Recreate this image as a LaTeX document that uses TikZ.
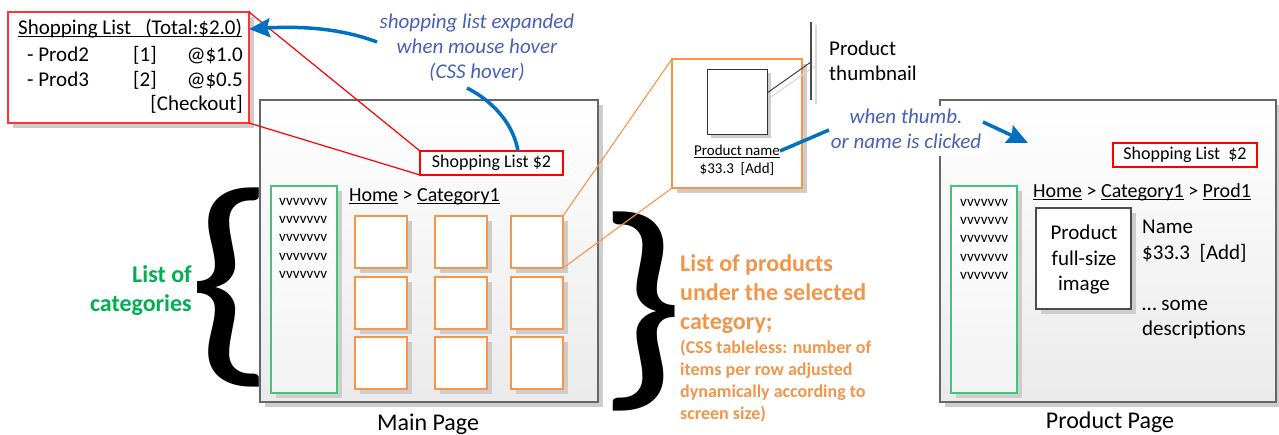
\documentclass[tikz,border=0pt]{standalone}
\usepackage{fontspec}
\setmainfont{Carlito}
\usetikzlibrary{shadows,arrows.meta,calc}
\definecolor{bluearrow}{RGB}{0,112,192}
\definecolor{bluetext}{RGB}{72,96,184}
\definecolor{orng}{RGB}{247,150,70}
\definecolor{orngtext}{RGB}{240,150,75}
\definecolor{grn}{RGB}{70,195,120}
\definecolor{grntext}{RGB}{0,176,80}
\definecolor{shadowgray}{RGB}{205,205,205}
\newcommand\uln[1]{\setbox0=\hbox{#1}\rlap{\rule[-2.4pt]{\wd0}{0.9pt}}\box0\relax}
\tikzset{
  shad/.style={drop shadow={shadow xshift=5pt,shadow yshift=-5pt,fill=shadowgray,opacity=1}},
  box/.style={draw,anchor=north west,inner sep=0pt,outer sep=0pt},
  page/.style={box,draw=black!60,line width=1.3pt,top color=white,bottom color=black!8,shad},
  prod/.style={box,draw=orng,line width=1.2pt,fill=white,shad,minimum width=52pt,minimum height=52pt},
  cat/.style={box,draw=grn,line width=1.1pt,top color=white,bottom color=black!5,shad,minimum width=66pt,minimum height=207pt},
  slbox/.style={box,draw=red,line width=1.1pt,fill=white,font=\fontsize{18}{22}\selectfont},
  t21/.style={font=\fontsize{21}{25}\selectfont,inner sep=0pt},
  t24/.style={font=\fontsize{24}{28}\selectfont,inner sep=0pt},
  t20/.style={font=\fontsize{20}{24}\selectfont,inner sep=0pt},
  t15/.style={font=\fontsize{15}{18}\selectfont,inner sep=0pt},
  vv/.style={font=\fontsize{15}{18}\selectfont,inner sep=0pt,anchor=base west},
  bt/.style={font=\fontsize{21}{25}\selectfont\itshape,text=bluetext,inner sep=0pt,anchor=base},
  gt/.style={font=\fontsize{24}{28}\selectfont\bfseries,text=grntext,inner sep=0pt,anchor=base east},
  ot/.style={font=\fontsize{24}{28}\selectfont\bfseries,text=orngtext,inner sep=0pt,anchor=base west},
  os/.style={font=\fontsize{18}{22}\selectfont\bfseries,text=orngtext,inner sep=0pt,anchor=base west},
  redline/.style={draw=red,line width=1.2pt},
  orline/.style={draw=orng,line width=1.1pt},
  blu/.style={draw=bluearrow,line width=3.5pt},
  bluarr/.style={blu,-{Stealth[length=21pt,width=19pt,inset=3pt]}},
  brace/.style={font=\fontsize{232}{232}\selectfont,inner sep=0pt,xscale=1.2}
}
\begin{document}
\begin{tikzpicture}[x=1pt,y=-1pt]
\useasboundingbox (0,0) rectangle (1279,434);

% ---------- expanded shopping list ----------
\node[box,draw=red!80,line width=1.3pt,fill=white,shad,minimum width=241pt,minimum height=111pt] (exp) at (8,12) {};
\node[t21,anchor=base west] (expt) at (18,34) {\uln{Shopping List\ \ \ (Total:\$2.0)}};
\node[t21,anchor=base west] (r1a) at (27,61) {- Prod2};
\node[t21,anchor=base west] (r1b) at (133,61) {[1]};
\node[t21,anchor=base east] (r1c) at (243,61) {@\$1.0};
\node[t21,anchor=base west] (r2a) at (27,86) {- Prod3};
\node[t21,anchor=base west] (r2b) at (133,86) {[2]};
\node[t21,anchor=base east] (r2c) at (243,86) {@\$0.5};
\node[t21,anchor=base east] (chk) at (243,110) {[Checkout]};

% ---------- main page ----------
\node[page,minimum width=338pt,minimum height=302pt] (main) at (260,100) {};
\node[t24,anchor=base] (mainl) at (428,430) {Main Page};
\node[slbox,minimum width=143pt,minimum height=24pt] (slm) at (420,151) {Shopping List \$2};
\node[cat] (catm) at (271,186) {};
\foreach \i/\y in {1/205,2/223,3/241,4/260,5/278}
  \node[vv] (vm\i) at (279,\y) {vvvvvvv};
\node[t20,anchor=base west] (crumbm) at (349,201) {\uln{Home} > \uln{Category1}};
\foreach \c/\x in {1/355,2/435,3/511}
  \foreach \r/\y in {1/216,2/277,3/337}
    \node[prod] (p\r\c) at (\x,\y) {};

% red connectors
\draw[redline] (exp.north east) -- (slm.north west);
\draw[redline] (exp.south east) -- (slm.south west);

% blue hover annotation
\node[bt] (h1) at (477,28) {shopping list expanded};
\node[bt] (h2) at (477,53) {when mouse hover};
\node[bt] (h3) at (477,78) {(CSS hover)};
\coordinate (a1s) at (377,42);
\coordinate (a2s) at (467,88);
\draw[bluarr] (a1s) .. controls (340,28) and (300,26) .. ($(exp.north east)+(0,17)$);
\draw[blu] (a2s) .. controls (498,104) and (514,128) .. ($(slm.north west)+(98,0)$);

% braces and labels
\node[brace] (lbr) at (231,287) {\{};
\node[brace] (rbr) at (641,311) {\}};
\node[gt] (g1) at (192,282) {List of};
\node[gt] (g2) at (192,311) {categories};
\node[ot] (o1) at (680,271) {List of products};
\node[ot] (o2) at (680,300) {under the selected};
\node[ot] (o3) at (680,329) {category;};
\node[os] (o4) at (680,353) {(CSS tableless: number of};
\node[os] (o5) at (680,375) {items per row adjusted};
\node[os] (o6) at (680,397) {dynamically according to};
\node[os] (o7) at (680,419) {screen size)};

% ---------- zoomed product ----------
\node[box,draw=orng,line width=1.3pt,fill=white,shad,minimum width=130pt,minimum height=129pt] (zoom) at (672,59) {};
\draw[orline] (p13.north east) -- (zoom.north west);
\draw[orline] (p13.south east) -- (zoom.south west);
\node[box,draw=black!80,line width=1pt,fill=white,drop shadow={shadow xshift=4pt,shadow yshift=-4pt,fill=shadowgray,opacity=1},minimum width=60pt,minimum height=65pt] (thumb) at (707,69) {};
\node[t15,anchor=base] (pname) at (737,155) {\uln{Product name}};
\node[t15,anchor=base] (pprice) at (737,173) {\$33.3\ \ [Add]};
% thumbnail callout
\coordinate (cb) at (811,62);
\draw[black!15,line width=1.2pt] ($(thumb.north east)+(4,28)$) -- ($(cb)+(4,4)$);
\draw[black!15,line width=1.2pt] (816,25) -- (816,104);
\draw[black!75,line width=1pt] ($(thumb.north east)+(0,24)$) -- (cb);
\draw[black!70,line width=1.2pt] (811,22) -- (811,100);
\node[t21,anchor=base west] (pt1) at (829,55) {Product};
\node[t21,anchor=base west] (pt2) at (829,80) {thumbnail};

% ---------- product page ----------
\node[page,minimum width=336pt,minimum height=302pt] (pp) at (940,100) {};
\node[t24,anchor=base] (ppl) at (1110,428) {Product Page};
\node[slbox,minimum width=144pt,minimum height=24pt] (slp) at (1113,143) {Shopping List\ \ \$2};
\node[cat] (catp) at (951,186) {};
\foreach \i/\y in {1/206,2/224,3/242,4/261,5/279}
  \node[vv] (vp\i) at (960,\y) {vvvvvvv};
\node[t20,anchor=base west] (crumbp) at (1033,197) {\uln{Home} > \uln{Category1} > \uln{Prod1}};
\node[box,draw=black!70,line width=1.1pt,fill=white,shad,minimum width=95pt,minimum height=101pt] (full) at (1036,208) {};
\node[t21,anchor=base] (f1) at (1084,239) {Product};
\node[t21,anchor=base] (f2) at (1084,265) {full-size};
\node[t21,anchor=base] (f3) at (1084,290) {image};
\node[t21,anchor=base west] (d1) at (1142,233) {Name};
\node[t21,anchor=base west] (d2) at (1142,259) {\$33.3\ \ [Add]};
\node[t21,anchor=base west] (d3) at (1142,310) {… some};
\node[t21,anchor=base west] (d4) at (1142,335) {descriptions};

% click annotation (over the product page border)
\fill[white] (826,106) rectangle (986,156);
\node[bt] (c1) at (906,123) {when thumb.};
\node[bt] (c2) at (906,148) {or name is clicked};
\coordinate (c2s) at (829,130);
\draw[blu] (pname.east) -- (c2s);
\coordinate (a3s) at (983,122);
\coordinate (a3e) at (1028,143);
\draw[bluarr] (a3s) -- (a3e);
\end{tikzpicture}
\end{document}
